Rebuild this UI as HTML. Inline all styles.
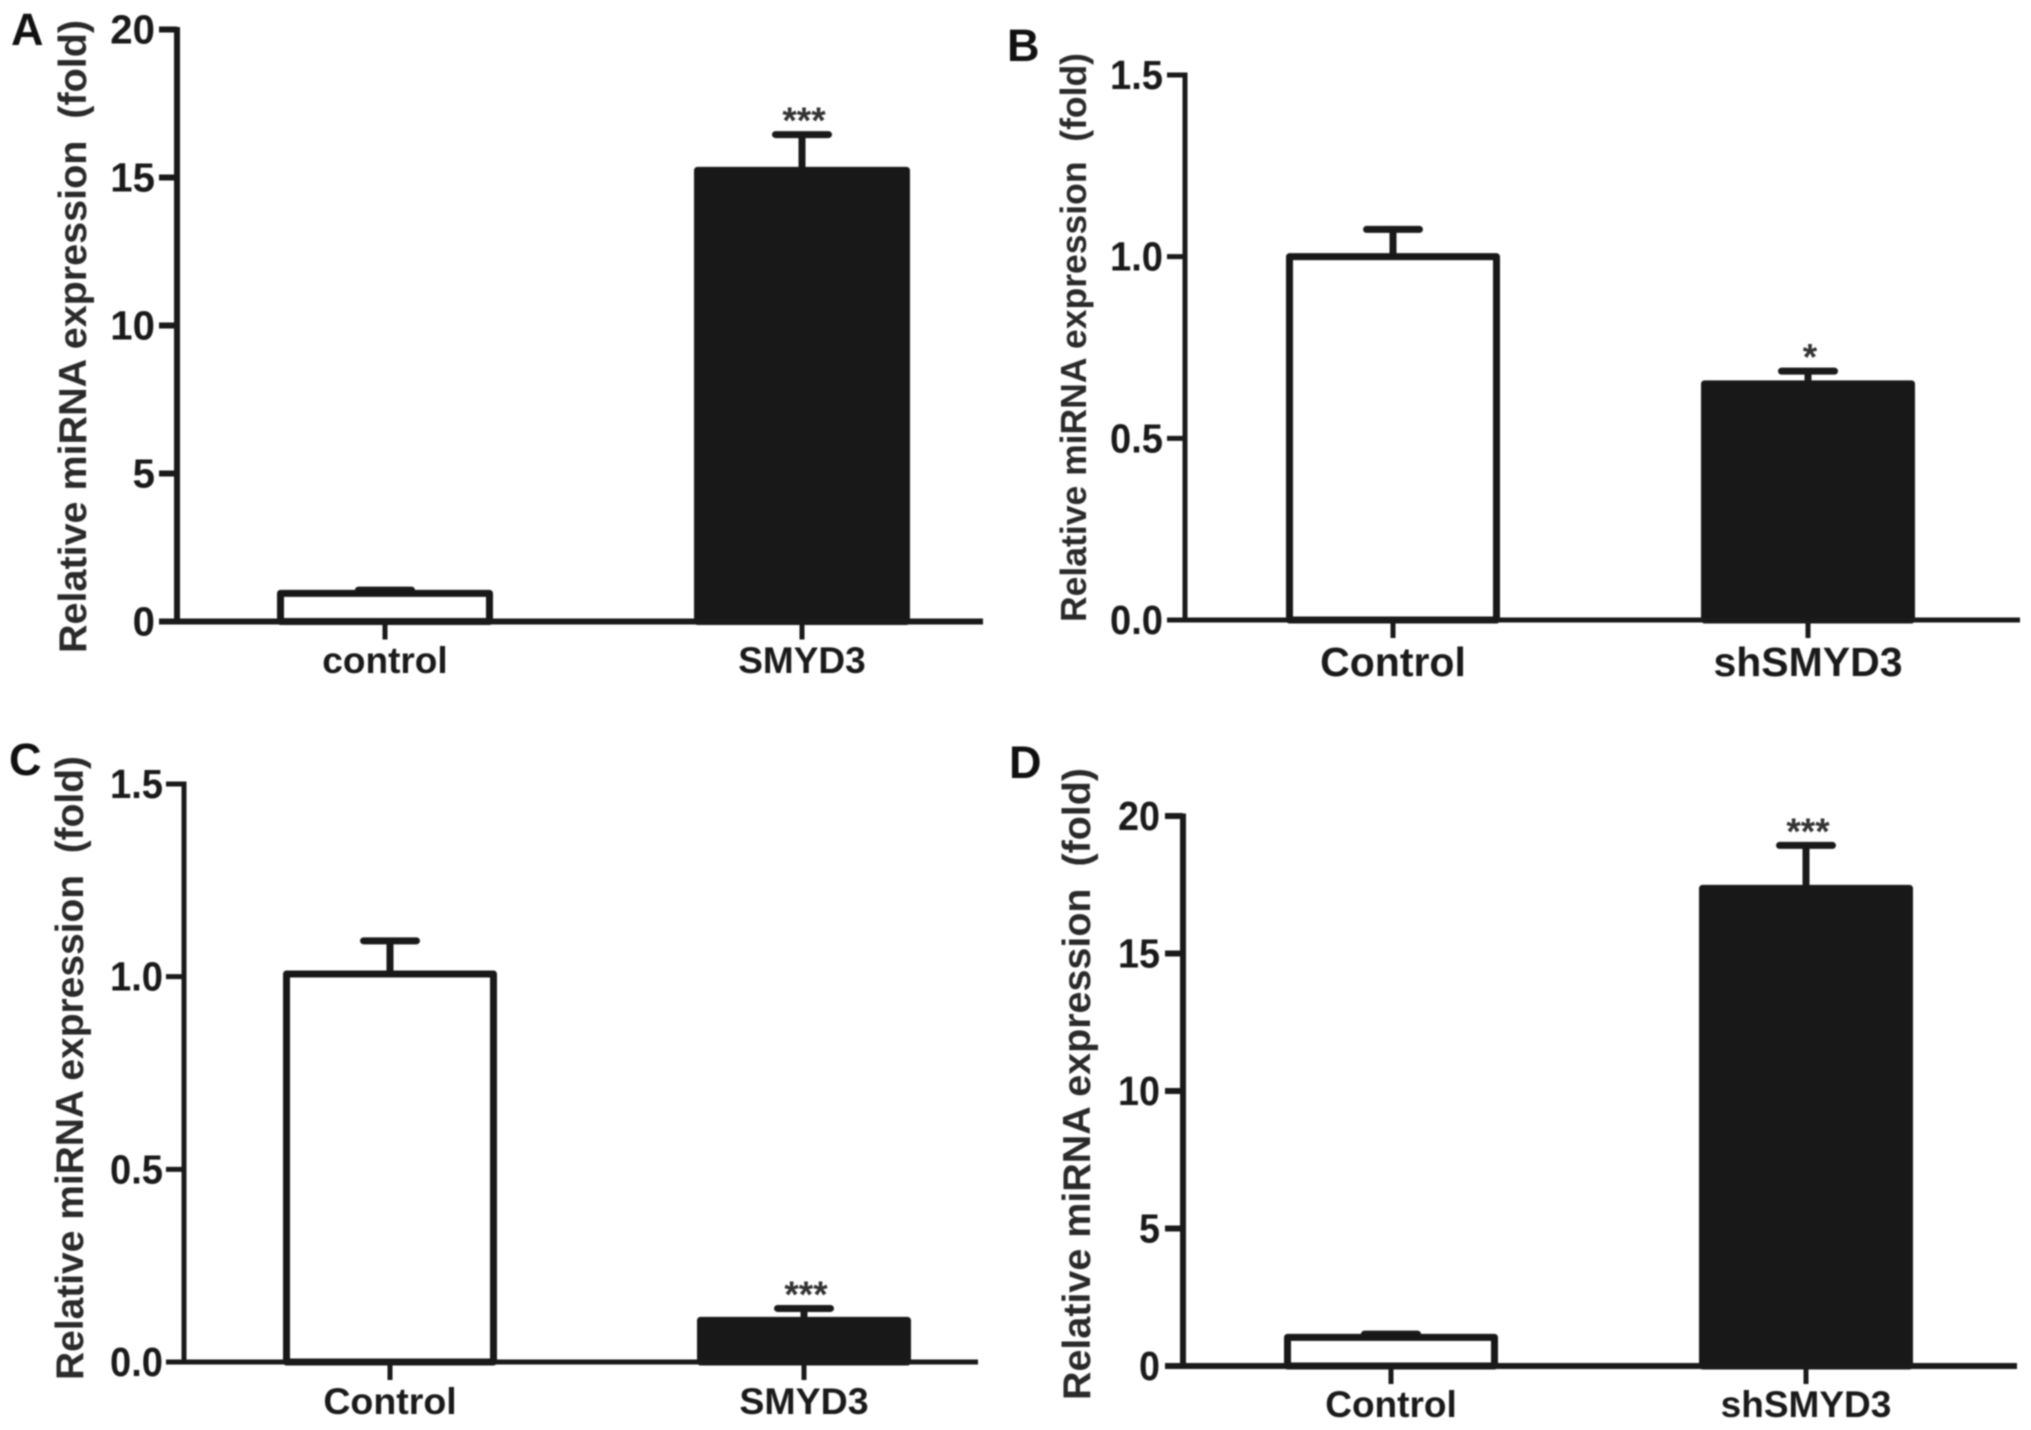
<!DOCTYPE html>
<html>
<head>
<meta charset="utf-8">
<title>Relative miRNA expression panels</title>
<style>
html,body{margin:0;padding:0;background:#fff;}
#figure{display:block;width:2031px;height:1430px;filter:blur(0.8px);}
text{font-family:"Liberation Sans",Arial,sans-serif;font-weight:bold;}
</style>
</head>
<body>
<svg id="figure" xmlns="http://www.w3.org/2000/svg" width="2031" height="1430" viewBox="0 0 2031 1430"></svg>
<script>
// Panel A data
const aCategories = ['control', 'SMYD3'];
const aValues = [0.95, 15.24];
const aErrors = [0.11, 1.21];
const aStars = ['', '***'];
const aTicks = [0, 5, 10, 15, 20];
const aTickLabels = ['0', '5', '10', '15', '20'];
// Panel B data
const bCategories = ['Control', 'shSMYD3'];
const bValues = [1.0, 0.65];
const bErrors = [0.075, 0.035];
const bStars = ['', '*'];
const bTicks = [0, 0.5, 1.0, 1.5];
const bTickLabels = ['0.0', '0.5', '1.0', '1.5'];
// Panel C data
const cCategories = ['Control', 'SMYD3'];
const cValues = [1.007, 0.108];
const cErrors = [0.086, 0.031];
const cStars = ['', '***'];
const cTicks = [0, 0.5, 1.0, 1.5];
const cTickLabels = ['0.0', '0.5', '1.0', '1.5'];
// Panel D data
const dCategories = ['Control', 'shSMYD3'];
const dValues = [1.04, 17.37];
const dErrors = [0.12, 1.56];
const dStars = ['', '***'];
const dTicks = [0, 5, 10, 15, 20];
const dTickLabels = ['0', '5', '10', '15', '20'];

const NS = 'http://www.w3.org/2000/svg';
const root = document.getElementById('figure');
const INK = '#1a1a1a';

function line(parent, name, x1, y1, x2, y2, w, cap) {
  const el = document.createElementNS(NS, 'line');
  
  
  el.setAttribute('x1', x1);
  el.setAttribute('y1', y1);
  el.setAttribute('x2', x2);
  el.setAttribute('y2', y2);
  el.setAttribute('stroke', INK);
  el.setAttribute('stroke-width', w);
  el.setAttribute('stroke-linecap', cap || 'butt');
  parent.appendChild(el);
  return el;
}

function label(parent, name, str, x, y, size, anchor, fill) {
  const el = document.createElementNS(NS, 'text');
  
  
  el.setAttribute('x', x);
  el.setAttribute('y', y);
  el.setAttribute('font-size', size);
  el.setAttribute('text-anchor', anchor);
  el.setAttribute('fill', fill || INK);
  el.textContent = str;
  parent.appendChild(el);
  return el;
}

function drawPanel(p) {
  const g = document.createElementNS(NS, 'g');
  
  
  root.appendChild(g);

  const yScale = v => p.zero - (v / p.max) * (p.zero - p.top);
  const xScale = i => p.first + i * p.step;

  label(g, 'panel-letter-' + p.id, p.letter, p.letterX, p.letterY, 45, 'start', '#111');

  // bars
  p.cats.forEach((c, i) => {
    const cx = xScale(i);
    const yv = yScale(p.vals[i]);
    const yTop = yScale(p.vals[i] + p.errs[i]);
    line(g, 'error-stem-' + p.id + '-' + c, cx, yv, cx, yTop, 7);
    line(g, 'error-cap-' + p.id + '-' + c, cx - 26.5, yTop, cx + 26.5, yTop, 7, 'round');

    const bar = document.createElementNS(NS, 'rect');
    
    
    bar.setAttribute('x', cx - p.barW / 2);
    bar.setAttribute('y', yv);
    bar.setAttribute('width', p.barW);
    bar.setAttribute('height', p.zero - yv);
    bar.setAttribute('fill', i === 0 ? '#ffffff' : '#181818');
    bar.setAttribute('stroke', '#181818');
    bar.setAttribute('stroke-width', 7);
    bar.setAttribute('stroke-linejoin', 'round');
    g.appendChild(bar);

    if (p.stars[i]) {
      label(g, 'significance-' + p.id + '-' + c, p.stars[i], cx + 2, yTop - 1.5, 37, 'middle', '#333');
    }

    line(g, 'x-tick-' + p.id + '-' + c, cx, p.zero, cx, p.zero + 18, 5);
    label(g, 'x-label-' + p.id + '-' + c, c, cx, p.catY, p.catSize, 'middle');
  });

  // axes
  line(g, 'y-axis-' + p.id, p.axisX, p.top - 2.5, p.axisX, p.zero + 2, p.axisW);
  line(g, 'x-axis-' + p.id, p.axisX - 18, p.zero, p.right, p.zero, p.axisW);

  // y ticks
  p.ticks.forEach((t, i) => {
    const y = yScale(t);
    line(g, 'y-tick-' + p.id + '-' + p.tickLabels[i], p.axisX - 18, y, p.axisX, y, p.axisW);
    const tl = label(g, 'y-tick-label-' + p.id + '-' + p.tickLabels[i], p.tickLabels[i], p.labelX, y + 14, 41, 'end');
    tl.setAttribute('textLength', tl.getComputedTextLength() * p.tickSqueeze);
    tl.setAttribute('lengthAdjust', 'spacingAndGlyphs');
  });

  // y title
  const title = label(g, 'y-axis-title-' + p.id, 'Relative miRNA expression  (fold)', 0, 0, p.titleSize, 'start', '#2a2a2a');
  title.setAttribute('xml:space', 'preserve');
  title.style.whiteSpace = 'pre';
  title.setAttribute('transform', 'translate(' + p.titleX + ',' + p.titleBottom + ') rotate(-90)');
  title.setAttribute('textLength', p.titleLen);
  title.setAttribute('lengthAdjust', 'spacingAndGlyphs');
}

drawPanel({ id: 'a', letter: 'A', letterX: 11, letterY: 45, cats: aCategories, vals: aValues, errs: aErrors, stars: aStars,
  ticks: aTicks, tickLabels: aTickLabels, max: 20, axisX: 177, axisW: 6, top: 29.5, zero: 621.5, right: 983,
  first: 385, step: 417, barW: 209, labelX: 155, tickSqueeze: 0.98, catY: 673, catSize: 37, titleSize: 39, titleX: 86, titleBottom: 653, titleLen: 633 });

drawPanel({ id: 'b', letter: 'B', letterX: 1007, letterY: 61, cats: bCategories, vals: bValues, errs: bErrors, stars: bStars,
  ticks: bTicks, tickLabels: bTickLabels, max: 1.5, axisX: 1185, axisW: 5, top: 75, zero: 620, right: 2020,
  first: 1393, step: 415, barW: 207, labelX: 1163, tickSqueeze: 0.93, catY: 676, catSize: 41, titleSize: 36, titleX: 1086, titleBottom: 622, titleLen: 569 });

drawPanel({ id: 'c', letter: 'C', letterX: 9, letterY: 775, cats: cCategories, vals: cValues, errs: cErrors, stars: cStars,
  ticks: cTicks, tickLabels: cTickLabels, max: 1.5, axisX: 184, axisW: 5, top: 784, zero: 1362, right: 978,
  first: 390, step: 414, barW: 207, labelX: 163, tickSqueeze: 0.93, catY: 1414, catSize: 37.5, titleSize: 39, titleX: 83, titleBottom: 1380, titleLen: 624 });

drawPanel({ id: 'd', letter: 'D', letterX: 1009, letterY: 778, cats: dCategories, vals: dValues, errs: dErrors, stars: dStars,
  ticks: dTicks, tickLabels: dTickLabels, max: 20, axisX: 1183, axisW: 6, top: 816, zero: 1366, right: 2017,
  first: 1391, step: 415, barW: 207, labelX: 1160, tickSqueeze: 0.92, catY: 1417, catSize: 37, titleSize: 39, titleX: 1090, titleBottom: 1400, titleLen: 632 });
</script>
</body>
</html>
